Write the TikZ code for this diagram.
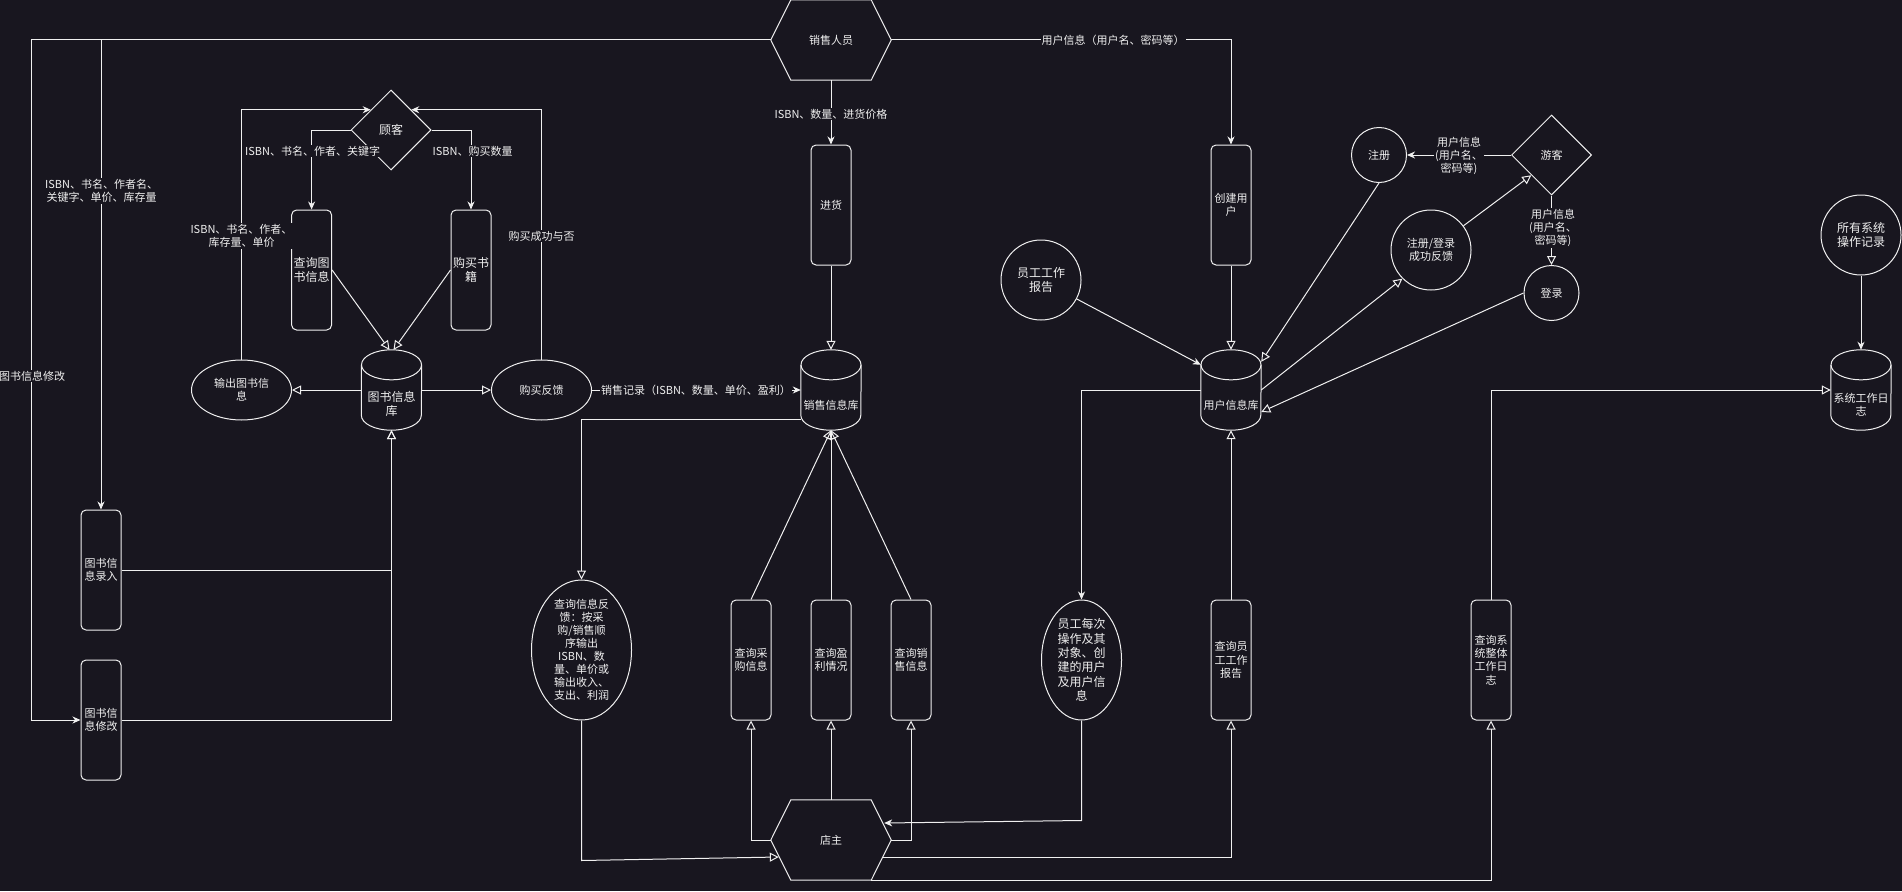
\documentclass[tikz,border=0pt]{standalone}
\usepackage{fontspec}
\setmainfont{Noto Sans CJK SC}
\usetikzlibrary{arrows.meta,shapes.geometric,calc}
\definecolor{bg}{HTML}{18161F}
\definecolor{fg}{HTML}{F0F0F0}
\newcommand{\drawhex}[1]{\draw[shp] (#1.west) -- ($(#1.north west)+(20,0)$) -- ($(#1.north east)+(-20,0)$) -- (#1.east) -- ($(#1.south east)+(-20,0)$) -- ($(#1.south west)+(20,0)$) -- cycle;}
\newcommand{\drawcyl}[1]{\draw[shp] ($(#1.north west)+(0,15)$) -- ($(#1.south west)+(0,-15)$) arc[start angle=180,end angle=0,x radius=30,y radius=15] -- ($(#1.north east)+(0,15)$); \draw[shp] ($(#1.north)+(0,15)$) ellipse[x radius=30,y radius=15];}
\begin{document}
\begin{tikzpicture}[x=1pt,y=-1pt,
  every node/.style={text=fg,font=\fontsize{11}{13.2}\selectfont},
  f12/.style={font=\fontsize{12}{14.4}\selectfont},
  proc/.style={draw=fg,line width=1pt,rounded corners=5pt,minimum width=40pt,minimum height=120pt,inner sep=0pt,align=center},
  ell/.style={draw=fg,line width=1pt,ellipse,inner sep=0pt},
  dia/.style={draw=fg,line width=1pt,diamond,inner sep=0pt,minimum width=80pt,minimum height=80pt},
  frame/.style={inner sep=0pt,align=center},
  shp/.style={draw=fg,line width=1pt},
  lbl/.style={fill=bg,inner sep=1pt,align=center},
  intext/.style={align=center},
  arr/.style={draw=fg,line width=1pt,-{Stealth[length=8pt,width=7pt,inset=2.5pt]}},
  oarr/.style={draw=fg,line width=1pt,-{Triangle[open,length=9pt,width=9pt]}},
]
\fill[bg] (0,0) rectangle (1902,891);
\useasboundingbox (0,0) rectangle (1902,891);

% hexagons
\node[frame,minimum width=120pt,minimum height=80pt] (sales) at (831,40) {销售人员};
\node[frame,minimum width=120pt,minimum height=80pt] (owner) at (831,840) {店主};
\drawhex{sales}
\drawhex{owner}

% diamonds
\node[dia,f12] (customer) at (391,130) {顾客};
\node[dia] (visitor) at (1551.5,155) {游客};

% process boxes
\node[proc,f12] (qbook) at (311.6,270) {查询图\\书信息};
\node[proc,f12] (buy) at (471,270) {购买书\\籍};
\node[proc] (entry) at (101,570) {图书信\\息录入};
\node[proc] (modify) at (101,720) {图书信\\息修改};
\node[proc] (stock) at (831,205) {进货};
\node[proc] (qpur) at (751,660) {查询采\\购信息};
\node[proc] (qprof) at (831,660) {查询盈\\利情况};
\node[proc] (qsale) at (911,660) {查询销\\售信息};
\node[proc] (create) at (1231,205) {创建用\\户};
\node[proc] (qreport) at (1231,660) {查询员\\工工作\\报告};
\node[proc] (qsys) at (1491,660) {查询系\\统整体\\工作日\\志};

% cylinders
\node[frame,minimum width=60pt,minimum height=80pt,label={[f12,intext,yshift=-14pt]center:图书信息\\库}] (libdb) at (391.5,390) {};
\node[frame,minimum width=60pt,minimum height=80pt,label={[intext,yshift=-15pt]center:销售信息库}] (saledb) at (831,390) {};
\node[frame,minimum width=60pt,minimum height=80pt,label={[intext,yshift=-15pt]center:用户信息库}] (userdb) at (1231,390) {};
\node[frame,minimum width=60pt,minimum height=80pt,label={[intext,yshift=-15pt]center:系统工作日\\志}] (sysdb) at (1861,390) {};
\drawcyl{libdb}
\drawcyl{saledb}
\drawcyl{userdb}
\drawcyl{sysdb}

% ellipses
\node[ell,minimum width=100pt,minimum height=60pt,label={[intext]center:输出图书信\\息}] (outbook) at (241.5,390) {};
\node[ell,minimum width=100pt,minimum height=60pt,label={[intext]center:购买反馈}] (feedback) at (541.5,390) {};
\node[ell,minimum width=100pt,minimum height=140pt,label={[intext,font=\fontsize{11}{13}\selectfont]center:查询信息反\\馈：按采\\购/销售顺\\序输出\\ISBN、数\\量、单价或\\输出收入、\\支出、利润}] (qfb) at (581.5,650) {};
\node[ell,minimum width=80pt,minimum height=80pt,label={[intext,f12]center:员工工作\\报告}] (report) at (1041,280) {};
\node[ell,minimum width=80pt,minimum height=120pt,label={[intext,f12]center:员工每次\\操作及其\\对象、创\\建的用户\\及用户信\\息}] (staffop) at (1081.5,660) {};
\node[ell,minimum width=55pt,minimum height=55pt,label={[intext]center:注册}] (register) at (1379,155) {};
\node[ell,minimum width=80pt,minimum height=80pt,label={[intext]center:注册/登录\\成功反馈}] (rlfb) at (1431,250) {};
\node[ell,minimum width=55pt,minimum height=55pt,label={[intext]center:登录}] (login) at (1551.5,293) {};
\node[ell,minimum width=80pt,minimum height=80pt,label={[intext,f12]center:所有系统\\操作记录}] (allops) at (1861,235) {};

\coordinate (lcorner) at (31.5,40);

% connectors
\draw[arr] (sales.west) -- (lcorner) |- (modify.west);
\draw[arr] (sales.west) -| (entry.north);
\draw[arr] (customer.west) -| (qbook.north);
\draw[arr] (customer.east) -| (buy.north);
\draw[oarr] (qbook.east) -- ($(libdb.north)+(-2,0)$);
\draw[oarr] (buy.west) -- ($(libdb.north)+(2,0)$);
\draw[oarr] (libdb.west) -- (outbook.east);
\draw[oarr] (libdb.east) -- (feedback.west);
\draw[arr] (outbook.north) |- (customer.north west);
\draw[arr] (feedback.north) |- (customer.north east);
\draw[arr] (feedback.east) -- (saledb.west);
\draw[oarr] (entry.east) -| (libdb.south);
\draw[oarr] (modify.east) -| (libdb.south);
\draw[oarr] ($(saledb.west)+(0,29)$) -| (qfb.north);
\draw[oarr] (qpur.north) -- (saledb.south);
\draw[oarr] (qprof.north) -- (saledb.south);
\draw[oarr] (qsale.north) -- (saledb.south);
\draw[oarr] (owner.west) -| (qpur.south);
\draw[oarr] (owner.north) -- (qprof.south);
\draw[oarr] (owner.east) -| (qsale.south);
\draw[oarr] (qfb.south) -- ++(0,140) -- ($(owner.west)+(8,17)$);
\draw[arr] (staffop.south) -- ++(0,100) -- ($(owner.east)+(-7,-17)$);
\draw[arr] (sales.south) -- (stock.north);
\draw[oarr] (stock.south) -- (saledb.north);
\draw[arr] (sales.east) -| (create.north);
\draw[oarr] (create.south) -- (userdb.north);
\draw[arr] (report) -- ($(userdb.north west)+(0,15)$);
\draw[arr] (userdb.west) -| (staffop.north);
\draw[oarr] (qreport.north) -- (userdb.south);
\draw[oarr] ($(owner.east)+(-8,17)$) -| (qreport.south);
\draw[oarr] ($(owner.south east)+(-20,0)$) -| (qsys.south);
\draw[oarr] (qsys.north) |- (sysdb.west);
\draw[arr] (allops.south) -- (sysdb.north);
\draw[arr] (visitor.west) -- (register.east);
\draw[oarr] (visitor.south) -- (login.north);
\draw[oarr] (rlfb) -- (visitor.south west);
\draw[oarr] (register.south) -- ($(userdb.north east)+(0,12)$);
\draw[oarr] (userdb.east) -- (rlfb.225);
\draw[oarr] (login.west) -- ($(userdb.east)+(0,22)$);

% labels
\node[lbl] (l1) at (32,376) {图书信息修改};
\node[lbl] (l2) at (101.6,191) {ISBN、书名、作者名、\\关键字、单价、库存量};
\node[lbl] (l3) at (312.6,151) {ISBN、书名、作者、关键字};
\node[lbl] (l4) at (472.6,151) {ISBN、购买数量};
\node[lbl] (l5) at (241.5,236) {ISBN、书名、作者、\\库存量、单价};
\node[lbl] (l6) at (541.5,236) {购买成功与否};
\node[lbl] (l7) at (696,390) {销售记录（ISBN、数量、单价、盈利）};
\node[lbl] (l8) at (831,114) {ISBN、数量、进货价格};
\node[lbl] (l9) at (1113,40) {用户信息（用户名、密码等）};
\node[lbl] (l10) at (1459,156) {用户信息\\(用户名、\\密码等)};
\node[lbl] (l11) at (1553,228) {用户信息\\(用户名、\\密码等)};
\end{tikzpicture}
\end{document}
